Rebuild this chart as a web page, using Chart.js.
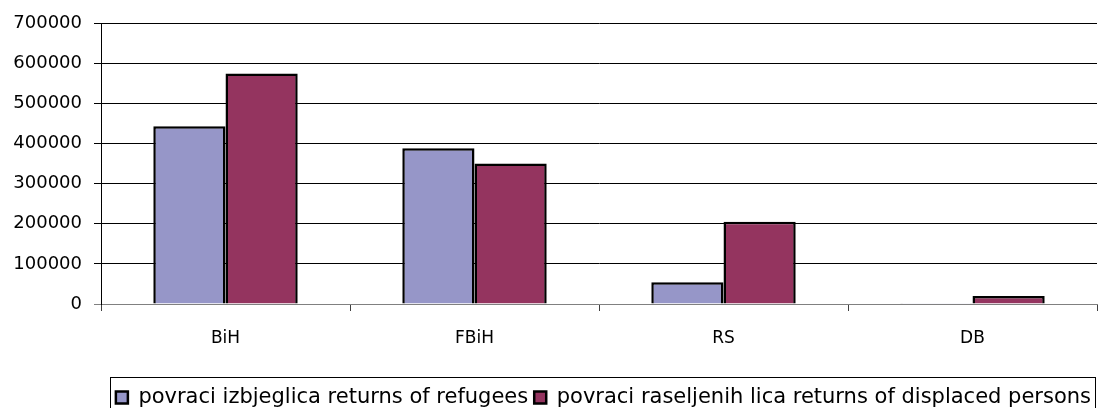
<!DOCTYPE html>
<html>
<head>
<meta charset="utf-8">
<script src="https://cdn.jsdelivr.net/npm/chart.js@4.4.1/dist/chart.umd.min.js"></script>
<style>
  html, body { margin: 0; padding: 0; background: #ffffff; }
  #wrap { width: 1105px; height: 408px; }
</style>
</head>
<body>
<div id="wrap"><canvas id="chart1" width="1105" height="408"></canvas></div>
<script>
// Chart data
const categories = ['BiH', 'FBiH', 'RS', 'DB'];
const refugees = [443000, 388000, 54000, 2000];
const displaced = [574000, 350000, 205000, 20000];
const yTicks = [0, 100000, 200000, 300000, 400000, 500000, 600000, 700000];

const seriesNames = [
  'povraci izbjeglica returns of refugees',
  'povraci raseljenih lica returns of displaced persons'
];
const seriesColors = ['#9696C8', '#94345F'];

const fontFamily = '"DejaVu Sans", Verdana, sans-serif';

// Draws a thin frame round the legend, as in the original
const legendFrame = {
  id: 'legendFrame',
  afterDraw(chart) {
    const boxes = chart.legend.legendHitBoxes;
    if (!boxes || !boxes.length) return;
    const ctx = chart.ctx;
    let left = Infinity, right = -Infinity, top = Infinity;
    boxes.forEach(b => {
      left = Math.min(left, b.left);
      right = Math.max(right, b.left + b.width);
      top = Math.min(top, b.top);
    });
    ctx.save();
    ctx.strokeStyle = '#000000';
    ctx.lineWidth = 1;
    ctx.strokeRect(Math.round(left) - 5.5, Math.round(top) - 9.5, Math.round(right - left) + 10, 60);
    ctx.restore();
  }
};

const ctx = document.getElementById('chart1').getContext('2d');
const chart1 = new Chart(ctx, {
  type: 'bar',
  data: {
    labels: categories,
    datasets: [
      {
        label: seriesNames[0],
        data: refugees,
        backgroundColor: seriesColors[0],
        borderColor: '#000000',
        borderWidth: 2.5,
        barPercentage: 1,
        categoryPercentage: 0.58,
      },
      {
        label: seriesNames[1],
        data: displaced,
        backgroundColor: seriesColors[1],
        borderColor: '#000000',
        borderWidth: 2.5,
        barPercentage: 1,
        categoryPercentage: 0.58,
      },
    ],
  },
  options: {
    responsive: false,
    animation: false,
    layout: {
      padding: { left: 0, right: 8, top: 23, bottom: -10 },
    },
    scales: {
      x: {
        afterFit(scale) {
          scale.height = 77;
        },
        grid: {
          display: true,
          drawOnChartArea: false,
          offset: true,
          color: '#404040',
          tickLength: 7,
        },
        border: { display: true, color: '#808080', width: 1 },
        ticks: {
          color: '#000000',
          padding: 17,
          font: { family: fontFamily, size: 17 },
        },
      },
      y: {
        min: 0,
        max: 700000,
        afterBuildTicks(scale) {
          scale.ticks = yTicks.map(v => ({ value: v }));
        },
        afterFit(scale) {
          scale.width = 101;
        },
        grid: {
          color: (c) => (c.tick && c.tick.value === 0 ? '#808080' : '#000000'),
          lineWidth: 1,
          tickLength: 7,
        },
        border: { display: true, color: '#000000', width: 1 },
        ticks: {
          color: '#000000',
          padding: 12,
          font: { family: fontFamily, size: 18 },
          callback: (v) => String(v),
        },
      },
    },
    plugins: {
      legend: {
        display: true,
        position: 'bottom',
        align: 'end',
        labels: {
          color: '#000000',
          boxWidth: 12,
          boxHeight: 12,
          padding: 6,
          font: { family: fontFamily, size: 21 },
        },
      },
      tooltip: { enabled: false },
    },
  },
  plugins: [legendFrame],
});
</script>
</body>
</html>
